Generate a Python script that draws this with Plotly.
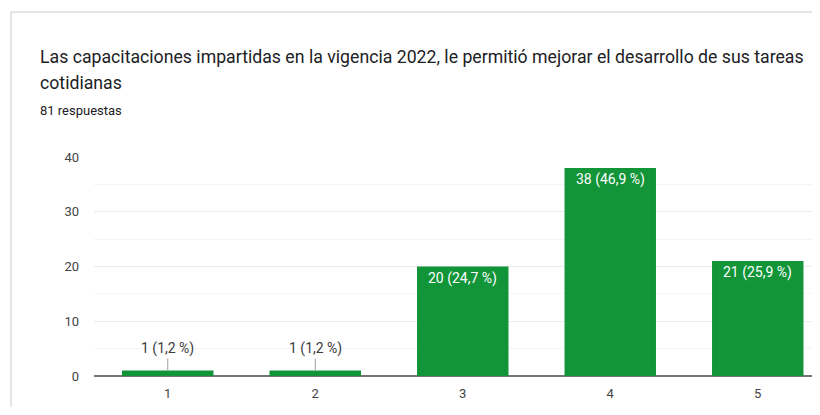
import plotly.graph_objects as go

# survey answers (scale 1-5)
categories = ['1', '2', '3', '4', '5']
counts = [1, 1, 20, 38, 21]
percents = ['1,2', '1,2', '24,7', '46,9', '25,9']

title_line1 = 'Las capacitaciones impartidas en la vigencia 2022, le permitió mejorar el desarrollo de sus tareas'
title_line2 = 'cotidianas'
subtitle = '81 respuestas'

# page body has an 8px margin, so the figure starts at (8, 8) of the window;
# keep the figure small enough that no scrollbar shows up
OFF = 8
W, H = 820 - 2 * OFF, 415 - 2 * OFF
L, R, T, B = 94 - OFF, 0, 157 - OFF, (415 - OFF) - 376
green = '#129439'
font_family = 'Roboto, Arial, sans-serif'


def px_x(x):
    # x in window pixels -> paper coords
    return (x - OFF - L) / (W - L - R)


def px_y(y):
    return (H - B - (y - OFF)) / (H - T - B)


fig = go.Figure(
    go.Bar(
        x=list(range(len(categories))),
        y=counts,
        marker=dict(color=green, line=dict(width=0)),
        width=0.62,
        hoverinfo='skip',
    )
)

annotations = []
for i, (c, p) in enumerate(zip(counts, percents)):
    label = f'{c} ({p} %)'
    if c < 5:
        # small bars get an outside label with a leader line
        annotations.append(dict(
            x=i, y=c, xref='x', yref='y', text=label,
            showarrow=True, arrowhead=0, arrowwidth=1, arrowcolor='#9e9e9e',
            ax=0, ay=-22, font=dict(size=14, color='#3c3c3c', family=font_family),
        ))
    else:
        annotations.append(dict(
            x=i, y=c, xref='x', yref='y', text=label, showarrow=False,
            yanchor='top', yshift=-1,
            font=dict(size=14, color='white', family=font_family),
        ))

annotations += [
    dict(x=px_x(38), y=px_y(57), xref='paper', yref='paper', text=title_line1,
         showarrow=False, xanchor='left', yanchor='middle',
         font=dict(size=17.7, color='#202124', family=font_family)),
    dict(x=px_x(38), y=px_y(83), xref='paper', yref='paper', text=title_line2,
         showarrow=False, xanchor='left', yanchor='middle',
         font=dict(size=17.7, color='#202124', family=font_family)),
    dict(x=px_x(38), y=px_y(110), xref='paper', yref='paper', text=subtitle,
         showarrow=False, xanchor='left', yanchor='middle',
         font=dict(size=13, color='#202124', family=font_family)),
]

# card border (left + top)
shapes = [
    dict(type='line', xref='paper', yref='paper', x0=px_x(11), x1=px_x(11),
         y0=px_y(12), y1=px_y(415), line=dict(color='#dadce0', width=1.5)),
    dict(type='line', xref='paper', yref='paper', x0=px_x(11), x1=px_x(820),
         y0=px_y(12), y1=px_y(12), line=dict(color='#dadce0', width=1.5)),
]

span = (W - L - R) / 147.5
fig.update_layout(
    width=W, height=H,
    margin=dict(l=L, r=R, t=T, b=B),
    paper_bgcolor='white', plot_bgcolor='white',
    showlegend=False,
    font=dict(family=font_family, size=13, color='#444444'),
    xaxis=dict(
        range=[-0.5, -0.5 + span],
        tickmode='array', tickvals=list(range(len(categories))), ticktext=categories,
        showgrid=False, zeroline=False, showline=False, ticks='',
        ticklabelstandoff=8, fixedrange=True,
    ),
    yaxis=dict(
        range=[0, 40], dtick=10, showgrid=True, gridcolor='#ebebeb',
        zeroline=True, zerolinecolor='#757575', zerolinewidth=2,
        minor=dict(dtick=5, showgrid=True, gridcolor='#f5f5f5'),
        ticks='', ticklabelstandoff=14, fixedrange=True,
    ),
    annotations=annotations,
    shapes=shapes,
)

fig.write_html('out.html')
